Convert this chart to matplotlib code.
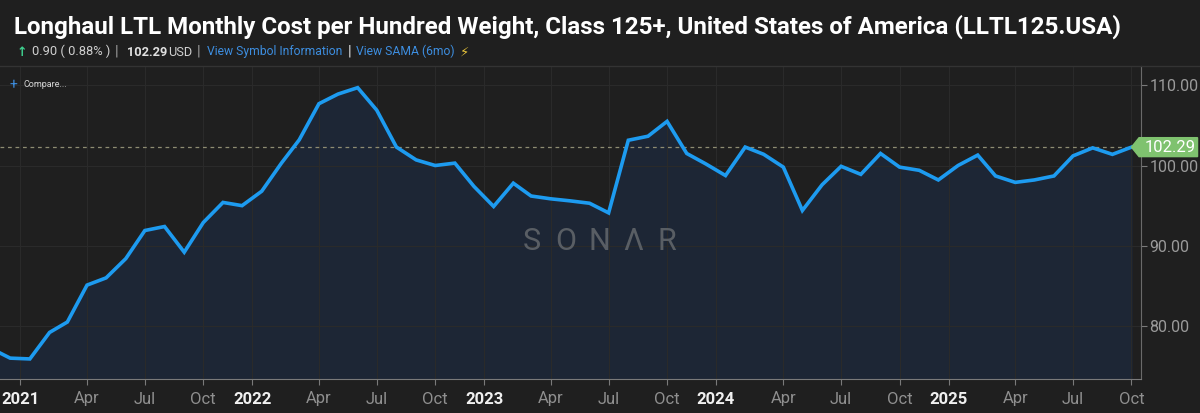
import matplotlib
matplotlib.use("Agg")
import matplotlib.pyplot as plt
import matplotlib.dates as mdates
from matplotlib.patches import Polygon
import pandas as pd

plt.rcParams['font.family'] = ['Roboto', 'DejaVu Sans']

# monthly readings, Nov 2020 .. Oct 2025
months = pd.date_range('2020-11-01', '2025-10-01', freq='MS')
cost = [77.2, 76.0,
        75.9, 79.2, 80.5, 85.1, 86.0, 88.4, 91.9, 92.4, 89.2, 92.9, 95.4, 95.0,
        96.8, 100.3, 103.2, 107.7, 108.9, 109.7, 106.9, 102.3, 100.7, 100.0, 100.3, 97.4,
        94.9, 97.8, 96.2, 95.85, 95.6, 95.3, 94.1, 103.15, 103.65, 105.5, 101.5, 100.2,
        98.75, 102.3, 101.4, 99.8, 94.4, 97.6, 99.9, 98.9, 101.5, 99.8, 99.4, 98.2,
        100.0, 101.3, 98.7, 97.9, 98.2, 98.7, 101.2, 102.2, 101.39, 102.29]
change = 0.90
change_pct = 0.88

year_labels = ['2021', '2022', '2023', '2024', '2025']
month_labels = ['Apr', 'Jul', 'Oct']
y_ticks = [80, 90, 100, 110]

bg = '#1f1f1f'
line_c = '#1d9bf0'
fill_c = '#1d2635'

fig = plt.figure(figsize=(12, 4.13), dpi=100, facecolor=bg)
ax = fig.add_axes([0.0, 1 - 379 / 413, 1141 / 1200, (379 - 66) / 413])
ax.set_facecolor(bg)

last_date, last_val = months[-1], cost[-1]

ax.fill_between(months, cost, 70, color=fill_c, zorder=1)
ax.plot(months, cost, color=line_c, lw=2.6, zorder=3, solid_joinstyle='miter')
ax.axhline(last_val, color='#8e8c72', lw=0.9, ls=(0, (3, 3)), zorder=2)

ax.set_xlim(pd.Timestamp('2020-11-15'), pd.Timestamp('2025-10-16'))
ax.set_ylim(73.4, 112.4)

# x ticks: year labels sit slightly ahead of Jan 1
ticks, labels = [], []
for y in year_labels:
    ticks.append(pd.Timestamp(y + '-01-01') - pd.Timedelta(days=15))
    labels.append(y)
    for m, mn in zip(month_labels, [4, 7, 10]):
        d = pd.Timestamp(int(y), mn, 1)
        if d <= last_date:
            ticks.append(d)
            labels.append(m)
ax.set_xticks(ticks)
ax.set_xticklabels(labels)
for t in ax.get_xticklabels():
    if t.get_text().isdigit():
        t.set_color('#f0f0f0')
        t.set_fontweight('bold')
    else:
        t.set_color('#8f8f8f')
ax.tick_params(axis='x', length=4, color='#7a7a7a', labelsize=12, pad=5)

ax.yaxis.tick_right()
ax.set_yticks(y_ticks)
ax.set_yticklabels([f'{v:.2f}' for v in y_ticks])
ax.tick_params(axis='y', length=4, color='#7a7a7a', labelcolor='#9a9a9a', labelsize=11.5, pad=2)

ax.grid(True, color='#2a2a2a', lw=0.8, zorder=0)
for s in ['top', 'left']:
    ax.spines[s].set_visible(False)
ax.spines['bottom'].set_color('#7a7a7a')
ax.spines['right'].set_color('#6a6a6a')

# last value tag
dx = pd.Timedelta(days=12)
w = pd.Timedelta(days=104)
h = 1.18
tag = Polygon([[mdates.date2num(last_date), last_val],
               [mdates.date2num(last_date + dx), last_val + h],
               [mdates.date2num(last_date + w), last_val + h],
               [mdates.date2num(last_date + w), last_val - h],
               [mdates.date2num(last_date + dx), last_val - h]],
              closed=True, color='#7fc26f', clip_on=False, zorder=5)
ax.add_patch(tag)
ax.text(last_date + pd.Timedelta(days=61), last_val, f'{last_val:.2f}', color='white',
        fontsize=12, ha='center', va='center', zorder=6, clip_on=False)

# watermark, letters spread out
word = 'SONΛR'
for i, ch in enumerate(word):
    ax.text(0.5255 + (i - 2) * 0.0297, 0.44, ch, transform=ax.transAxes, color='#595e64',
            fontsize=22, ha='center', va='center', zorder=2)

# compare button
ax.text(0.008, 0.939, '+', transform=ax.transAxes, color='#3d8ee0', fontsize=10, va='center')
ax.text(0.0205, 0.941, 'Compare...', transform=ax.transAxes, color='#d8d8d8', fontsize=6.5, va='center')

# header
fig.text(14 / 1200, 1 - 33.5 / 413,
         'Longhaul LTL Monthly Cost per Hundred Weight, Class 125+, United States of America (LLTL125.USA)',
         color='white', fontsize=17.4, fontweight='bold', va='baseline')
sy = 1 - 55.5 / 413
fig.text(17 / 1200, sy, '↑', color='#3ecf8e', fontsize=9, va='baseline', fontweight='bold',
         family=['DejaVu Sans'])
fig.text(32 / 1200, sy, f'{change:.2f} ( {change_pct:.2f}% )', color='#d0d0d0', fontsize=9.3, va='baseline')
fig.text(115 / 1200, sy, '|', color='#9a9a9a', fontsize=11, va='baseline')
fig.text(127 / 1200, sy, f'{last_val:.2f}', color='#e0e0e0', fontsize=9.2, va='baseline', fontweight='bold')
fig.text(168 / 1200, sy, 'USD', color='#d0d0d0', fontsize=9.2, va='baseline')
fig.text(197 / 1200, sy, '|', color='#9a9a9a', fontsize=11, va='baseline')
fig.text(207 / 1200, sy, 'View Symbol Information', color='#3d8ee0', fontsize=8.7, va='baseline')
fig.text(348 / 1200, sy, '|', color='#e0e0e0', fontsize=11, va='baseline')
fig.text(356 / 1200, sy, 'View SAMA (6mo)', color='#3d8ee0', fontsize=8.7, va='baseline')
fig.text(460 / 1200, sy, '⚡', color='#e8c53a', fontsize=9.5, va='baseline', family=['DejaVu Sans'])

fig.add_artist(plt.Line2D([0, 1], [1 - 66 / 413] * 2, color='#333333', lw=1))

fig.savefig('out.png', dpi=100, facecolor=bg)
